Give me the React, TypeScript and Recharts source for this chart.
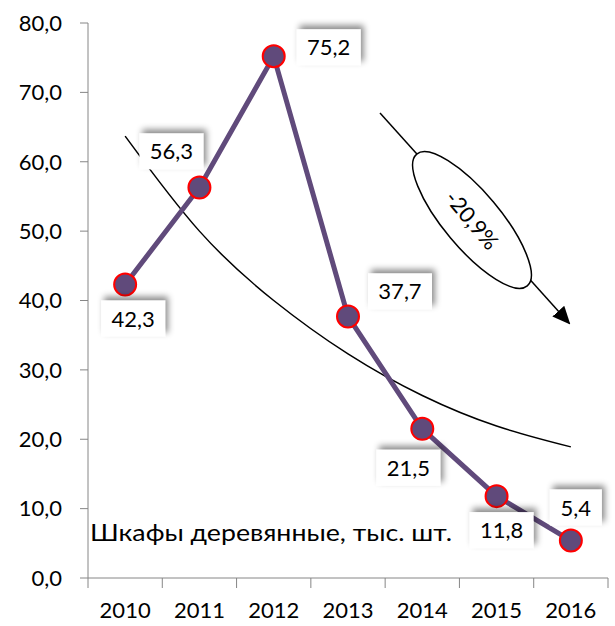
import React from "react";
import { Customized, LabelList, Line, LineChart, XAxis, YAxis } from "recharts";

const years = ["2010", "2011", "2012", "2013", "2014", "2015", "2016"];
const cabinets = [42.3, 56.3, 75.2, 37.7, 21.5, 11.8, 5.4];
// trend curve
const trend = [63.7, 50.0, 40.0, 32.3, 26.3, 21.9, 18.9];
const yTicks = [0, 10, 20, 30, 40, 50, 60, 70, 80];
const xEdges = [-0.5, 0.5, 1.5, 2.5, 3.5, 4.5, 5.5, 6.5];
const title = "Шкафы деревянные, тыс. шт.";
const change = "-20,9%";

// label box offsets from each point (px)
const labelDx = [8, -28, 55, 52, -14, 5, 5];
const labelDy = [34, -36, -9, -25, 39, 34, -33];

const data = years.map((y, i) => ({ idx: i, year: y, value: cabinets[i], trend: trend[i] }));

const FONT = "Lato, 'Open Sans', sans-serif";
const fmt = (v: number) => v.toFixed(1).replace(".", ",");
const HALF_BAND = 520 / 7 / 2;

function YearTick(props: any) {
  const { x, y, payload } = props;
  const k = Math.round(payload.value + 0.5);
  if (k < 0 || k >= years.length) return null;
  return (
    <text x={x + HALF_BAND} y={y + 28} textAnchor="middle" fontSize={22} fontFamily={FONT} fill="#000">
      {years[k]}
    </text>
  );
}

function ValueLabel(props: any) {
  const { x, y, value, index } = props;
  const txt = fmt(Number(value));
  const w = txt.length * 12 + 16;
  const h = 36;
  const cx = x + labelDx[index];
  const cy = y + labelDy[index];
  return (
    <g>
      <rect x={cx - w / 2} y={cy - h / 2} width={w} height={h} fill="#fff" filter="url(#lblShadow)" />
      <text x={cx} y={cy + 8} textAnchor="middle" fontSize={22} fontFamily={FONT} fill="#000">
        {txt}
      </text>
    </g>
  );
}

function Annotations() {
  return (
    <g>
      <defs>
        <filter id="lblShadow" x="-30%" y="-40%" width="160%" height="180%">
          <feDropShadow dx="3" dy="-4" stdDeviation="3" floodColor="#000" floodOpacity="0.45" />
        </filter>
        <marker id="arrowHead" markerWidth="18" markerHeight="16" refX="16" refY="8" orient="auto" markerUnits="userSpaceOnUse">
          <path d="M0,0 L18,8 L0,16 z" fill="#000" />
        </marker>
      </defs>
      <line x1={380} y1={113} x2={569} y2={323} stroke="#000" strokeWidth={1.5} markerEnd="url(#arrowHead)" />
      <ellipse cx={472} cy={220} rx={86} ry={28} transform="rotate(50 472 220)" fill="#fff" stroke="#000" strokeWidth={1.5} />
      <text x={472} y={228} textAnchor="middle" fontSize={22} fontFamily={FONT} transform="rotate(50 472 220)">
        {change}
      </text>
      <text x={90} y={541} fontSize={24} fontFamily={FONT} fill="#000" textLength={362} lengthAdjust="spacingAndGlyphs">
        {title}
      </text>
    </g>
  );
}

export default function App() {
  return (
    <div style={{ position: "absolute", left: 0, top: 0, background: "#fff" }}>
      <LineChart width={615} height={626} data={data} margin={{ top: 23, right: 7, left: 0, bottom: 0 }}>
        <Customized component={<Annotations />} />
        <XAxis
          dataKey="idx"
          type="number"
          domain={[-0.5, 6.5]}
          ticks={xEdges}
          interval={0}
          height={48}
          tickSize={10}
          stroke="#868686"
          tick={<YearTick />}
        />
        <YAxis
          domain={[0, 80]}
          ticks={yTicks}
          width={88}
          tickSize={8}
          tickMargin={18}
          stroke="#868686"
          tickFormatter={fmt}
          tick={{ fontSize: 22, fontFamily: FONT, fill: "#000" }}
        />
        <Line
          dataKey="trend"
          type="natural"
          stroke="#000"
          strokeWidth={1.5}
          dot={false}
          isAnimationActive={false}
        />
        <Line
          dataKey="value"
          type="linear"
          stroke="#604a7b"
          strokeWidth={5}
          dot={{ r: 11, fill: "#604a7b", stroke: "#ff0000", strokeWidth: 2 }}
          isAnimationActive={false}
        >
          <LabelList dataKey="value" content={<ValueLabel />} />
        </Line>
      </LineChart>
    </div>
  );
}
